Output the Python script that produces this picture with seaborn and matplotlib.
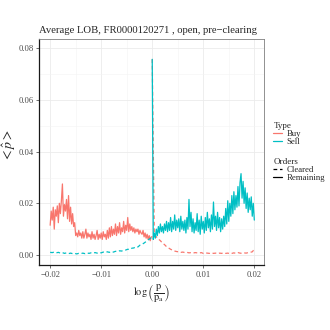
import numpy as np
import pandas as pd
import matplotlib
matplotlib.use('Agg')
import matplotlib.pyplot as plt
from matplotlib.lines import Line2D
import seaborn as sns

# Buy side, remaining orders (x from -0.02 to 0, step 0.0002)
buy_remaining = [
    0.0115, 0.0170, 0.0135, 0.0185, 0.0100, 0.0175, 0.0150, 0.0190, 0.0125, 0.0200,
    0.0160, 0.0210, 0.0275, 0.0150, 0.0195, 0.0170, 0.0215, 0.0140, 0.0230, 0.0130,
    0.0185, 0.0120, 0.0160, 0.0110, 0.0125, 0.0075, 0.0085, 0.0070, 0.0095, 0.0075,
    0.0085, 0.0065, 0.0090, 0.0065, 0.0080, 0.0100, 0.0065, 0.0085, 0.0070, 0.0080,
    0.0060, 0.0090, 0.0065, 0.0080, 0.0060, 0.0075, 0.0095, 0.0060, 0.0080, 0.0065,
    0.0085, 0.0060, 0.0090, 0.0070, 0.0080, 0.0060, 0.0095, 0.0065, 0.0105, 0.0070,
    0.0110, 0.0075, 0.0100, 0.0080, 0.0120, 0.0075, 0.0110, 0.0085, 0.0125, 0.0080,
    0.0105, 0.0090, 0.0130, 0.0085, 0.0115, 0.0095, 0.0145, 0.0090, 0.0120, 0.0095,
    0.0110, 0.0090, 0.0105, 0.0085, 0.0100, 0.0090, 0.0100, 0.0080, 0.0095, 0.0085,
    0.0080, 0.0095, 0.0070, 0.0085, 0.0065, 0.0080, 0.0060, 0.0075, 0.0055, 0.0070,
    0.0070,
]

# Sell side, cleared orders (x from -0.02 to 0, step 0.0004)
sell_cleared = [
    0.0010, 0.0009, 0.0011, 0.0008, 0.0010, 0.0007, 0.0009, 0.0006, 0.0008, 0.0005,
    0.0007, 0.0005, 0.0006, 0.0004, 0.0006, 0.0005, 0.0007, 0.0005, 0.0008, 0.0006,
    0.0008, 0.0007, 0.0009, 0.0007, 0.0010, 0.0008, 0.0011, 0.0009, 0.0012, 0.0010,
    0.0013, 0.0011, 0.0014, 0.0013, 0.0016, 0.0015, 0.0018, 0.0019, 0.0022, 0.0021,
    0.0026, 0.0027, 0.0032, 0.0031, 0.0038, 0.0041, 0.0046, 0.0052, 0.0058, 0.0064,
    0.0070,
]

# Buy side, cleared orders (x from 0 to 0.02, step 0.0004)
buy_cleared = [
    0.0758, 0.0080, 0.0070, 0.0062, 0.0055, 0.0046, 0.0040, 0.0032, 0.0027, 0.0022,
    0.0018, 0.0015, 0.0013, 0.0012, 0.0010, 0.0011, 0.0009, 0.0010, 0.0008, 0.0009,
    0.0007, 0.0009, 0.0008, 0.0007, 0.0009, 0.0006, 0.0008, 0.0007, 0.0006, 0.0008,
    0.0006, 0.0007, 0.0005, 0.0007, 0.0006, 0.0008, 0.0006, 0.0007, 0.0005, 0.0006,
    0.0008, 0.0006, 0.0009, 0.0007, 0.0006, 0.0008, 0.0007, 0.0009, 0.0010, 0.0012,
    0.0022,
]

# Sell side, remaining orders (x from 0 to 0.02, step 0.0002)
sell_remaining = [
    0.0758, 0.0060, 0.0085, 0.0065, 0.0100, 0.0075, 0.0110, 0.0085, 0.0120, 0.0090,
    0.0110, 0.0085, 0.0120, 0.0095, 0.0130, 0.0090, 0.0125, 0.0095, 0.0145, 0.0090,
    0.0130, 0.0100, 0.0155, 0.0095, 0.0135, 0.0105, 0.0140, 0.0090, 0.0150, 0.0100,
    0.0130, 0.0095, 0.0135, 0.0085, 0.0145, 0.0100, 0.0215, 0.0110, 0.0165, 0.0090,
    0.0140, 0.0085, 0.0125, 0.0095, 0.0160, 0.0090, 0.0135, 0.0080, 0.0150, 0.0100,
    0.0130, 0.0085, 0.0145, 0.0095, 0.0165, 0.0105, 0.0140, 0.0090, 0.0155, 0.0100,
    0.0205, 0.0110, 0.0150, 0.0095, 0.0165, 0.0105, 0.0145, 0.0090, 0.0140, 0.0100,
    0.0150, 0.0110, 0.0180, 0.0120, 0.0210, 0.0130, 0.0200, 0.0150, 0.0230, 0.0160,
    0.0245, 0.0175, 0.0230, 0.0185, 0.0265, 0.0190, 0.0280, 0.0315, 0.0220, 0.0285,
    0.0200, 0.0260, 0.0180, 0.0240, 0.0165, 0.0220, 0.0175, 0.0225, 0.0150, 0.0200,
    0.0135,
]

x_ticks = [-0.02, -0.01, 0.00, 0.01, 0.02]
y_ticks = [0.00, 0.02, 0.04, 0.06, 0.08]
colors = {'Buy': '#F8766D', 'Sell': '#00BFC4'}


def make_frame(vals, lo, hi, side, orders):
    return pd.DataFrame({'x': np.linspace(lo, hi, len(vals)), 'y': vals,
                         'Type': side, 'Orders': orders})


df = pd.concat([
    make_frame(buy_cleared, 0.0, 0.02, 'Buy', 'Cleared'),
    make_frame(buy_remaining, -0.02, 0.0, 'Buy', 'Remaining'),
    make_frame(sell_cleared, -0.02, 0.0, 'Sell', 'Cleared'),
    make_frame(sell_remaining, 0.0, 0.02, 'Sell', 'Remaining'),
], ignore_index=True)

sns.set_style('white')
plt.rcParams['font.family'] = ['Liberation Serif']
plt.rcParams['mathtext.fontset'] = 'stix'

fig = plt.figure(figsize=(3.3, 3.3), dpi=100)
ax = fig.add_axes([0.118, 0.197, 0.682, 0.685])

sns.lineplot(data=df, x='x', y='y', hue='Type', style='Orders',
             hue_order=['Buy', 'Sell'], style_order=['Cleared', 'Remaining'],
             palette=colors, dashes={'Cleared': (3, 2.2), 'Remaining': ''},
             estimator=None, sort=False, linewidth=0.9, legend=False, ax=ax)

ax.set_xlim(-0.0222, 0.0219)
ax.set_ylim(-0.0039, 0.0837)
ax.set_xticks(x_ticks)
ax.set_xticklabels(['\u22120.02', '\u22120.01', '0.00', '0.01', '0.02'])
ax.set_yticks(y_ticks)
ax.set_yticklabels(['0.00', '0.02', '0.04', '0.06', '0.08'])
ax.set_xticks([-0.015, -0.005, 0.005, 0.015], minor=True)
ax.set_yticks([0.01, 0.03, 0.05, 0.07], minor=True)
ax.grid(True, which='major', color='#EBEBEB', linewidth=0.6)
ax.grid(True, which='minor', color='#F3F3F3', linewidth=0.4)
ax.set_axisbelow(True)
ax.tick_params(which='major', direction='out', length=2.5, width=0.5,
               color='#333333', labelsize=6.2, labelcolor='#4D4D4D', pad=1.5,
               left=True, bottom=True)
ax.tick_params(which='minor', length=0)
for side in ['top', 'right']:
    ax.spines[side].set_color('#7F7F7F')
    ax.spines[side].set_linewidth(0.6)
for side in ['left', 'bottom']:
    ax.spines[side].set_color('#1A1A1A')
    ax.spines[side].set_linewidth(0.9)

ax.set_title('Average LOB, FR0000120271 , open, pre\u2212clearing',
             fontsize=7.7, loc='left', pad=4)
ax.set_xlabel(r'$\log\left(\dfrac{\mathrm{p}}{\mathrm{p_a}}\right)$', fontsize=7.5)
ax.xaxis.set_label_coords(0.5, -0.075)
ax.set_ylabel(r'$<\hat{p}>$', fontsize=10)
ax.yaxis.set_label_coords(-0.095, 0.53)

type_handles = [Line2D([], [], color=colors['Buy'], lw=0.9),
                Line2D([], [], color=colors['Sell'], lw=0.9)]
order_handles = [Line2D([], [], color='black', lw=0.9, ls=(0, (3, 2.2))),
                 Line2D([], [], color='black', lw=0.9)]
leg_kw = dict(frameon=False, fontsize=6.3, title_fontsize=6.5, handlelength=1.0,
              handletextpad=0.5, labelspacing=0.0, borderpad=0, alignment='left')
fig.legend(type_handles, ['Buy', 'Sell'], title='Type',
           loc='upper left', bbox_to_anchor=(0.815, 0.645), **leg_kw)
fig.legend(order_handles, ['Cleared', 'Remaining'], title='Orders',
           loc='upper left', bbox_to_anchor=(0.815, 0.535), **leg_kw)

fig.savefig('out.png', dpi=100)
